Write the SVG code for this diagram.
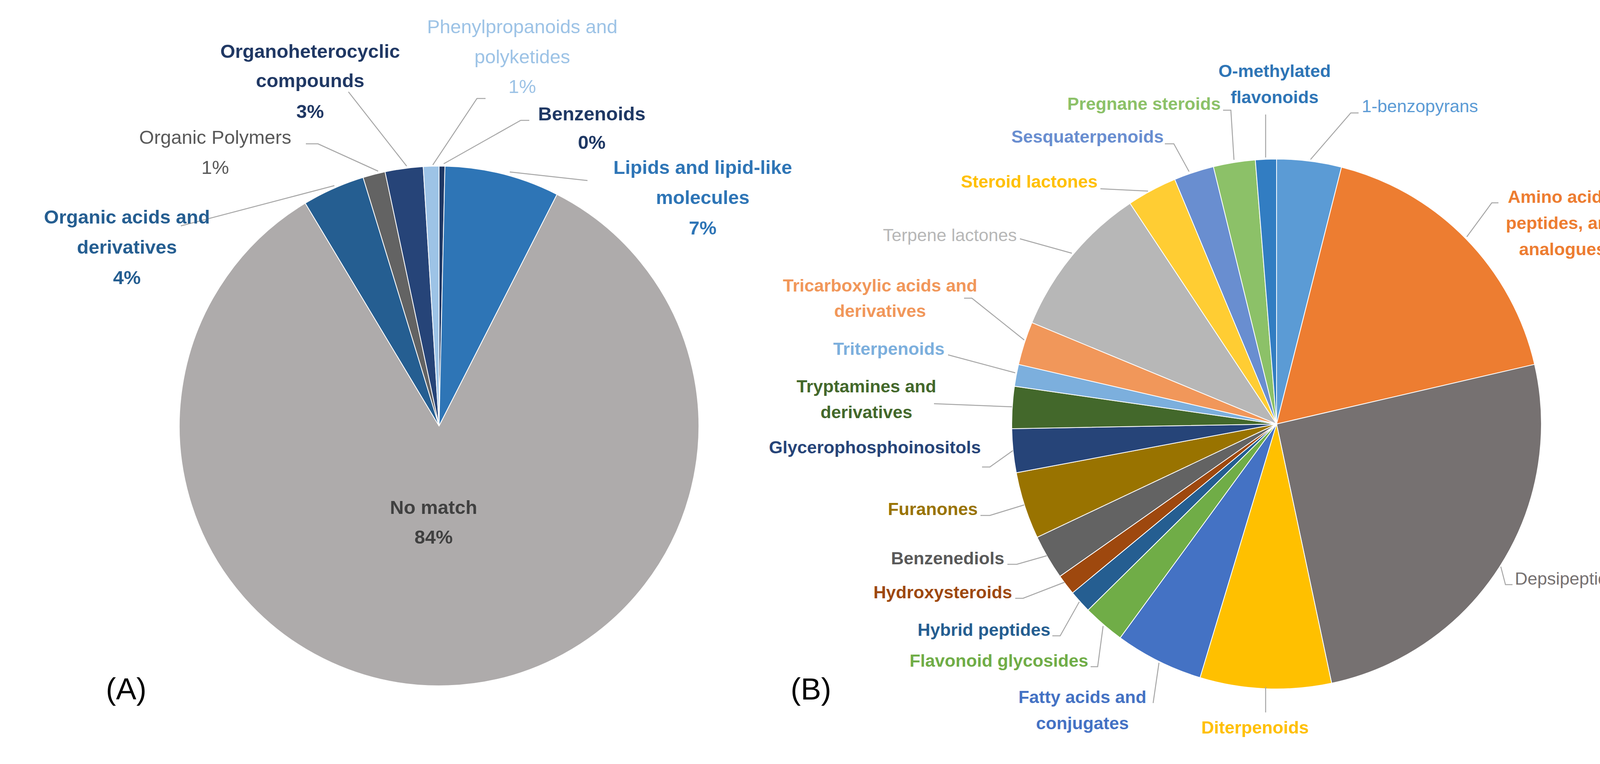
<svg xmlns="http://www.w3.org/2000/svg" width="4407" height="1955" viewBox="0 0 4407 1955">
<style>
text{font-family:"Liberation Sans",Arial,sans-serif;}
.a{font-size:49px;font-weight:bold;text-anchor:middle}
.an{font-size:49px;text-anchor:middle}
.b{font-size:45px;font-weight:bold}
.bn{font-size:45px}
.m{text-anchor:middle}.e{text-anchor:end}
.s{stroke:#fff;stroke-width:2}
.l{fill:none;stroke:#A6A6A6;stroke-width:2.5}
.p{font-size:78px;text-anchor:middle;fill:#000}
</style>
<rect width="4407" height="1955" fill="#fff"/>
<g id="pieA">
<path id="A-benz" class="s" fill="#1F3864" d="M1124,1090 L1124,425 A665,665 0 0 1 1139.1,425.2 Z"/>
<path id="A-lipids" class="s" fill="#2E75B6" d="M1124,1090 L1139.1,425.2 A665,665 0 0 1 1425.9,497.5 Z"/>
<path id="A-nomatch" class="s" fill="#AEABAB" d="M1124,1090 L1425.9,497.5 A665,665 0 1 1 781.5,520 Z"/>
<path id="A-acids" class="s" fill="#255E91" d="M1124,1090 L781.5,520 A665,665 0 0 1 929.6,454.1 Z"/>
<path id="A-polymers" class="s" fill="#636363" d="M1124,1090 L929.6,454.1 A665,665 0 0 1 985.7,439.6 Z"/>
<path id="A-orghet" class="s" fill="#264478" d="M1124,1090 L985.7,439.6 A665,665 0 0 1 1083.4,426.3 Z"/>
<path id="A-phenyl" class="s" fill="#9DC3E6" d="M1124,1090 L1083.4,426.3 A665,665 0 0 1 1124,425 Z"/>
</g>
<g id="pieB">
<path class="s" fill="#5B9BD5" d="M3268,1085 L3268,407 A678,678 0 0 1 3434.3,427.7 Z"/>
<path class="s" fill="#ED7D31" d="M3268,1085 L3434.3,427.7 A678,678 0 0 1 3928.6,932.4 Z"/>
<path class="s" fill="#767171" d="M3268,1085 L3928.6,932.4 A678,678 0 0 1 3409,1748.2 Z"/>
<path class="s" fill="#FFC000" d="M3268,1085 L3409,1748.2 A678,678 0 0 1 3072.1,1734 Z"/>
<path class="s" fill="#4472C4" d="M3268,1085 L3072.1,1734 A678,678 0 0 1 2867.6,1632.1 Z"/>
<path class="s" fill="#70AD47" d="M3268,1085 L2867.6,1632.1 A678,678 0 0 1 2785.3,1561.1 Z"/>
<path class="s" fill="#255E91" d="M3268,1085 L2785.3,1561.1 A678,678 0 0 1 2745.6,1517.2 Z"/>
<path class="s" fill="#9E480E" d="M3268,1085 L2745.6,1517.2 A678,678 0 0 1 2713.3,1474.9 Z"/>
<path class="s" fill="#636363" d="M3268,1085 L2713.3,1474.9 A678,678 0 0 1 2655,1374.8 Z"/>
<path class="s" fill="#997300" d="M3268,1085 L2655,1374.8 A678,678 0 0 1 2601.6,1209.8 Z"/>
<path class="s" fill="#264478" d="M3268,1085 L2601.6,1209.8 A678,678 0 0 1 2590.1,1096.9 Z"/>
<path class="s" fill="#43682B" d="M3268,1085 L2590.1,1096.9 A678,678 0 0 1 2596.9,988.3 Z"/>
<path class="s" fill="#7CAFDD" d="M3268,1085 L2596.9,988.3 A678,678 0 0 1 2607.4,932.4 Z"/>
<path class="s" fill="#F1975A" d="M3268,1085 L2607.4,932.4 A678,678 0 0 1 2641.6,825.5 Z"/>
<path class="s" fill="#B7B7B7" d="M3268,1085 L2641.6,825.5 A678,678 0 0 1 2892.8,520.3 Z"/>
<path class="s" fill="#FFCD33" d="M3268,1085 L2892.8,520.3 A678,678 0 0 1 3007.4,459.1 Z"/>
<path class="s" fill="#698ED0" d="M3268,1085 L3007.4,459.1 A678,678 0 0 1 3106.3,426.6 Z"/>
<path class="s" fill="#8CC168" d="M3268,1085 L3106.3,426.6 A678,678 0 0 1 3213.6,409.2 Z"/>
<path class="s" fill="#327DC2" d="M3268,1085 L3213.6,409.2 A678,678 0 0 1 3268,407 Z"/>
</g>
<g id="connectors">
<polyline class="l" points="463,578 856,475"/>
<polyline class="l" points="783,368 814,368 968,438"/>
<polyline class="l" points="892,235 1041,425"/>
<polyline class="l" points="1243,252 1221,252 1108,422"/>
<polyline class="l" points="1355,308 1333,308 1136,419"/>
<polyline class="l" points="1504,462 1305,440"/>
<polyline class="l" points="3478,289 3458,289 3355,408"/>
<polyline class="l" points="3240,293 3240,403"/>
<polyline class="l" points="3131,282 3151,282 3159,409"/>
<polyline class="l" points="2982,368 3005,368 3044,439"/>
<polyline class="l" points="2817,483 2939,489"/>
<polyline class="l" points="2611,611 2744,648"/>
<polyline class="l" points="2468,763 2488,763 2622,870"/>
<polyline class="l" points="2427,908 2599,954"/>
<polyline class="l" points="2391,1033 2591,1041"/>
<polyline class="l" points="2514,1195 2534,1195 2593,1153"/>
<polyline class="l" points="2510,1319 2534,1319 2622,1292"/>
<polyline class="l" points="2579,1444 2603,1444 2680,1422"/>
<polyline class="l" points="2599,1531 2619,1531 2725,1490"/>
<polyline class="l" points="2694,1627 2714,1627 2763,1540"/>
<polyline class="l" points="2792,1706 2810,1706 2824,1602"/>
<polyline class="l" points="2952,1799 2967,1696"/>
<polyline class="l" points="3240,1823 3240,1758"/>
<polyline class="l" points="3872,1496 3854,1496 3842,1450"/>
<polyline class="l" points="3836,519 3819,519 3755,606"/>
</g>
<g id="labelsA">
<text class="an" fill="#9DC3E6" x="1337" y="85">Phenylpropanoids and</text>
<text class="an" fill="#9DC3E6" x="1337" y="162">polyketides</text>
<text class="an" fill="#9DC3E6" x="1337" y="238">1%</text>
<text class="a" fill="#203864" x="794" y="148">Organoheterocyclic</text>
<text class="a" fill="#203864" x="794" y="223">compounds</text>
<text class="a" fill="#203864" x="794" y="302">3%</text>
<text class="a" fill="#1F3864" x="1515" y="308">Benzenoids</text>
<text class="a" fill="#1F3864" x="1515" y="381">0%</text>
<text class="an" fill="#595959" x="551" y="368">Organic Polymers</text>
<text class="an" fill="#595959" x="551" y="445">1%</text>
<text class="a" fill="#2E75B6" x="1799" y="445">Lipids and lipid-like</text>
<text class="a" fill="#2E75B6" x="1799" y="522">molecules</text>
<text class="a" fill="#2E75B6" x="1799" y="600">7%</text>
<text class="a" fill="#255E91" x="325" y="572">Organic acids and</text>
<text class="a" fill="#255E91" x="325" y="649">derivatives</text>
<text class="a" fill="#255E91" x="325" y="727">4%</text>
<text class="a" fill="#404040" x="1110" y="1315">No match</text>
<text class="a" fill="#404040" x="1110" y="1391">84%</text>
<text class="p" x="323" y="1790">(A)</text>
<text class="p" x="2076" y="1790">(B)</text>
</g>
<g id="labelsB">
<text class="b m" fill="#2E75B6" x="3263" y="197">O-methylated</text>
<text class="b m" fill="#2E75B6" x="3263" y="264">flavonoids</text>
<text class="bn" fill="#5B9BD5" x="3486" y="287">1-benzopyrans</text>
<text class="b e" fill="#8CC168" x="3125" y="281">Pregnane steroids</text>
<text class="b e" fill="#698ED0" x="2979" y="365">Sesquaterpenoids</text>
<text class="b e" fill="#FFC000" x="2810" y="480">Steroid lactones</text>
<text class="bn e" fill="#B7B7B7" x="2603" y="617">Terpene lactones</text>
<text class="b m" fill="#F1975A" x="2253" y="746">Tricarboxylic acids and</text>
<text class="b m" fill="#F1975A" x="2253" y="811">derivatives</text>
<text class="b e" fill="#7CAFDD" x="2418" y="908">Triterpenoids</text>
<text class="b m" fill="#43682B" x="2218" y="1004">Tryptamines and</text>
<text class="b m" fill="#43682B" x="2218" y="1070">derivatives</text>
<text class="b e" fill="#264478" x="2511" y="1160">Glycerophosphoinositols</text>
<text class="b e" fill="#997300" x="2503" y="1318">Furanones</text>
<text class="b e" fill="#595959" x="2571" y="1444">Benzenediols</text>
<text class="b e" fill="#9E480E" x="2591" y="1531">Hydroxysteroids</text>
<text class="b e" fill="#255E91" x="2689" y="1627">Hybrid peptides</text>
<text class="b e" fill="#70AD47" x="2786" y="1706">Flavonoid glycosides</text>
<text class="b m" fill="#4472C4" x="2771" y="1799">Fatty acids and</text>
<text class="b m" fill="#4472C4" x="2771" y="1866">conjugates</text>
<text class="b m" fill="#FFC000" x="3213" y="1877">Diterpenoids</text>
<text class="bn" fill="#767171" x="3878" y="1496" font-size="42">Depsipeptides</text>
<text class="b m" fill="#ED7D31" x="4000" y="519">Amino acids,</text>
<text class="b m" fill="#ED7D31" x="4000" y="586">peptides, and</text>
<text class="b m" fill="#ED7D31" x="4000" y="653">analogues</text>
</g>
</svg>
